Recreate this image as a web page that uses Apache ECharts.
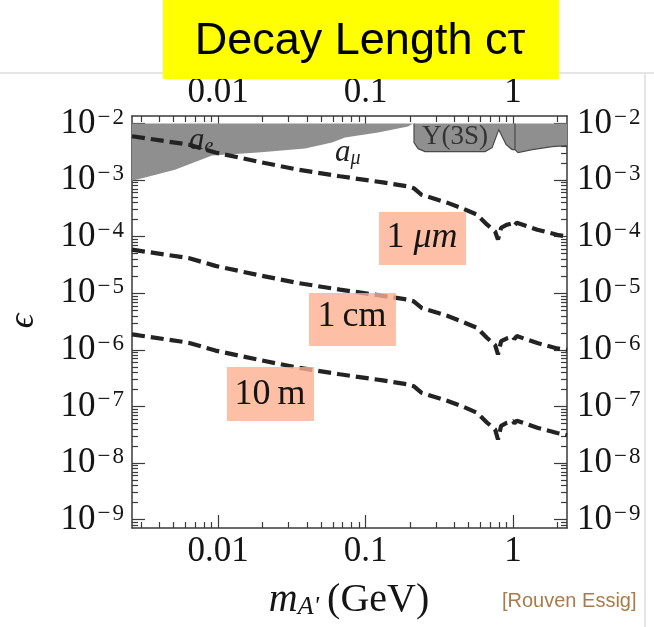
<!DOCTYPE html>
<html>
<head>
<meta charset="utf-8">
<title>Decay Length</title>
<script src="https://cdn.jsdelivr.net/npm/echarts@6/dist/echarts.min.js"></script>
<style>
  html, body { margin: 0; padding: 0; background: #fff; }
  #main { width: 654px; height: 627px; }
</style>
</head>
<body>
<div id="main"></div>
<script>
// axis ranges (m_A' in GeV, epsilon)
var massRange = [0.00261, 2.32];
var epsRange = [7.1e-10, 1.36e-2];
var xTickLabels = [0.01, 0.1, 1];
var yTickExps = [-9, -8, -7, -6, -5, -4, -3, -2];

// decay length contours
var curveMass = [0.00261, 0.0063, 0.0096, 0.0187, 0.0348, 0.067, 0.131, 0.19, 0.212, 0.24, 0.357, 0.458,
  0.57, 0.667, 0.755, 0.79, 0.83, 0.91, 1.0, 1.02, 1.06, 1.46, 1.99, 2.32];
var eps1um = [5.96e-3, 4.25e-3, 3.07e-3, 2.12e-3, 1.53e-3, 1.17e-3, 9.1e-4, 7.8e-4, 7.2e-4, 5.5e-4, 4.0e-4, 3.13e-4,
  2.45e-4, 1.63e-4, 1.24e-4, 8.9e-5, 1.44e-4, 1.63e-4, 1.74e-4, 1.58e-4, 1.77e-4, 1.33e-4, 1.08e-4, 1.01e-4];
var eps1cm = [5.9e-5, 4.2e-5, 3.05e-5, 2.1e-5, 1.52e-5, 1.16e-5, 9.0e-6, 7.8e-6, 7.2e-6, 5.5e-6, 4.0e-6, 3.1e-6,
  2.45e-6, 1.62e-6, 1.22e-6, 8.3e-7, 1.42e-6, 1.6e-6, 1.72e-6, 1.55e-6, 1.75e-6, 1.32e-6, 1.06e-6, 1.0e-6];
var eps10m = [1.88e-6, 1.34e-6, 9.7e-7, 6.7e-7, 4.84e-7, 3.7e-7, 2.88e-7, 2.47e-7, 2.28e-7, 1.74e-7, 1.26e-7, 9.9e-8,
  7.7e-8, 5.15e-8, 3.92e-8, 2.6e-8, 4.55e-8, 5.15e-8, 5.5e-8, 5.0e-8, 5.6e-8, 4.2e-8, 3.4e-8, 3.1e-8];

// excluded region (a_e, a_mu, then Upsilon(3S) and beyond), top edge at 1e-2
var regionTop = 1e-2;
var aMass = [0.00261, 0.0032, 0.0051, 0.0091, 0.0187, 0.0389, 0.0593, 0.0726, 0.1216, 0.194, 0.21];
var aEps = [9.8e-4, 1.11e-3, 1.53e-3, 2.72e-3, 3.07e-3, 3.61e-3, 4.61e-3, 5.65e-3, 6.93e-3, 8.85e-3, 1.0e-2];
var upsMass = [0.213, 0.213, 0.227, 0.253, 0.646, 0.721, 0.80, 0.897, 0.984, 1.03, 1.08, 1.35, 1.84, 2.32];
var upsEps = [1.0e-2, 4.6e-3, 3.6e-3, 3.2e-3, 3.2e-3, 3.76e-3, 7.8e-3, 4.25e-3, 3.47e-3, 3.47e-3, 3.07e-3, 3.47e-3, 3.92e-3, 4.08e-3];
var upsEdgeMass = 1.03;

var chart = echarts.init(document.getElementById('main'));
var lg = Math.log10;
var SERIF = '"Liberation Serif", "Times New Roman", "DejaVu Serif", serif';
var SANS = '"Liberation Sans", Arial, sans-serif';
var AXIS = '#3a3a3a';
var INK = '#151515';
var GRAY = '#8f8f8f';
var BOX = 'rgba(252,175,143,0.8)';

function pairs(xs, ys) {
  return xs.map(function (m, i) { return [lg(m), lg(ys[i])]; });
}

function minorTicks(lo, hi) {
  var out = [];
  for (var d = Math.floor(lo); d <= Math.ceil(hi); d++) {
    for (var k = 2; k <= 9; k++) {
      var v = d + lg(k);
      if (v > lo && v < hi) out.push(v);
    }
  }
  return out;
}

function fmtX(v) {
  return String(+Math.pow(10, v).toPrecision(3));
}
function fmtY(v) {
  return '{b|10}{m|\u2212}{s|' + (-Math.round(v)) + '}';
}
var yRich = {
  b: { fontFamily: SERIF, fontSize: 35, lineHeight: 35, padding: [4, 0, 0, 0], verticalAlign: 'bottom', color: INK },
  m: { fontFamily: SERIF, fontSize: 23, lineHeight: 23, padding: [0, 2, 0, 2], verticalAlign: 'top', color: INK },
  s: { fontFamily: SERIF, fontSize: 23, lineHeight: 23, verticalAlign: 'top', color: INK }
};

var xMin = lg(massRange[0]), xMax = lg(massRange[1]);
var yMin = lg(epsRange[0]), yMax = lg(epsRange[1]);

function xAxisDef(pos, major) {
  return {
    type: 'value', position: pos, min: xMin, max: xMax,
    splitLine: { show: false },
    axisLine: { show: major, onZero: false, lineStyle: { color: AXIS, width: 1.5 } },
    axisTick: {
      show: true, inside: true, length: major ? 13 : 6,
      lineStyle: { color: AXIS, width: 1.2 },
      customValues: major ? xTickLabels.map(lg) : minorTicks(xMin, xMax)
    },
    axisLabel: major ? {
      customValues: xTickLabels.map(lg), formatter: fmtX,
      fontFamily: SERIF, fontSize: 35, color: INK, margin: pos === 'top' ? 6 : 6
    } : { show: false }
  };
}

function yAxisDef(pos, major) {
  return {
    type: 'value', position: pos, min: yMin, max: yMax,
    splitLine: { show: false },
    axisLine: { show: major, onZero: false, lineStyle: { color: AXIS, width: 1.5 } },
    axisTick: {
      show: true, inside: true, length: major ? 13 : 6,
      lineStyle: { color: AXIS, width: 1.2 },
      customValues: major ? yTickExps : minorTicks(yMin, yMax)
    },
    axisLabel: major ? {
      customValues: yTickExps, formatter: fmtY, rich: yRich,
      margin: pos === 'left' ? 8 : 10
    } : { show: false }
  };
}

function dashed(name, eps) {
  return {
    name: name, type: 'line', data: pairs(curveMass, eps),
    showSymbol: false, symbol: 'none', z: 3, silent: true,
    lineStyle: { color: '#232323', width: 4.2, type: [13, 6] }
  };
}

var option = {
  backgroundColor: '#fff',
  animation: false,
  grid: { left: 132, right: 87, top: 116, bottom: 99 },
  xAxis: [xAxisDef('bottom', true), xAxisDef('top', true), xAxisDef('bottom', false), xAxisDef('top', false)],
  yAxis: [yAxisDef('left', true), yAxisDef('right', true), yAxisDef('left', false), yAxisDef('right', false)],
  series: [
    {
      type: 'custom', silent: true, z: 1,
      data: [[lg(aMass[0]), lg(aEps[0])]],
      renderItem: function (params, api) {
        var top = lg(regionTop);
        var pts = [api.coord([lg(aMass[0]), top])];
        pairs(aMass, aEps).forEach(function (p) { pts.push(api.coord(p)); });
        var edge = pairs(upsMass, upsEps).map(function (p) { return api.coord(p); });
        pts = pts.concat(edge);
        pts.push(api.coord([lg(upsMass[upsMass.length - 1]), top]));
        var v0 = api.coord([lg(upsEdgeMass), top]);
        var v1 = api.coord([lg(upsEdgeMass), lg(upsEps[upsMass.indexOf(upsEdgeMass)])]);
        return {
          type: 'group',
          children: [
            { type: 'polygon', shape: { points: pts }, style: { fill: GRAY } },
            { type: 'polyline', shape: { points: edge }, style: { stroke: '#4a4a4a', lineWidth: 1.2, fill: null } },
            { type: 'line', shape: { x1: v0[0], y1: v0[1], x2: v1[0], y2: v1[1] }, style: { stroke: '#4a4a4a', lineWidth: 1.2 } }
          ]
        };
      }
    },
    dashed('1 \u03bcm', eps1um),
    dashed('1 cm', eps1cm),
    dashed('10 m', eps10m)
  ],
  graphic: [
    { type: 'line', z: 0, shape: { x1: 0, y1: 73, x2: 654, y2: 73 }, style: { stroke: '#dcdcdc', lineWidth: 1.5 } },
    { type: 'line', z: 0, shape: { x1: 645, y1: 73, x2: 645, y2: 627 }, style: { stroke: '#dcdcdc', lineWidth: 1.5 } },
    { type: 'rect', z: 5, shape: { x: 163, y: 0, width: 396, height: 79 }, style: { fill: '#ffff00' } },
    { type: 'text', z: 6, style: { text: 'Decay Length c\u03c4', x: 360, y: 42, align: 'center', verticalAlign: 'middle',
        fontFamily: SANS, fontSize: 45, fill: '#000' } },

    { type: 'rect', z: 10, shape: { x: 379, y: 212, width: 87, height: 53 }, style: { fill: BOX } },
    { type: 'text', z: 11, style: { text: '{r|1}{i|\u03bcm}', x: 422, y: 238, align: 'center', verticalAlign: 'middle',
        rich: { r: { fontFamily: SERIF, fontSize: 36, fill: INK }, i: { fontFamily: SERIF, fontSize: 36, fontStyle: 'italic', fill: INK, padding: [0, 0, 0, 9] } } } },
    { type: 'rect', z: 10, shape: { x: 309, y: 293, width: 87, height: 53 }, style: { fill: BOX } },
    { type: 'text', z: 11, style: { text: '{r|1}{c|cm}', x: 352, y: 317, align: 'center', verticalAlign: 'middle',
        rich: { r: { fontFamily: SERIF, fontSize: 36, fill: INK }, c: { fontFamily: SERIF, fontSize: 36, fill: INK, padding: [0, 0, 0, 7] } } } },
    { type: 'rect', z: 10, shape: { x: 227, y: 367, width: 87, height: 54 }, style: { fill: BOX } },
    { type: 'text', z: 11, style: { text: '{r|10}{c|m}', x: 270, y: 395, align: 'center', verticalAlign: 'middle',
        rich: { r: { fontFamily: SERIF, fontSize: 36, fill: INK }, c: { fontFamily: SERIF, fontSize: 36, fill: INK, padding: [0, 0, 0, 7] } } } },

    { type: 'text', z: 11, style: { text: '{a|a}{e|e}', x: 189, y: 141, align: 'left', verticalAlign: 'middle',
        rich: { a: { fontFamily: SERIF, fontSize: 31, lineHeight: 31, fontStyle: 'italic', fill: '#222' },
                e: { fontFamily: SERIF, fontSize: 20, lineHeight: 20, fontStyle: 'italic', verticalAlign: 'bottom', fill: '#222' } } } },
    { type: 'text', z: 11, style: { text: '{a|a}{e|\u03bc}', x: 335, y: 153, align: 'left', verticalAlign: 'middle',
        rich: { a: { fontFamily: SERIF, fontSize: 31, lineHeight: 31, fontStyle: 'italic', fill: '#222' },
                e: { fontFamily: SERIF, fontSize: 20, lineHeight: 20, fontStyle: 'italic', verticalAlign: 'bottom', fill: '#222' } } } },
    { type: 'text', z: 11, style: { text: '\u03a5(3S)', x: 455, y: 137, align: 'center', verticalAlign: 'middle',
        fontFamily: SERIF, fontSize: 27, fill: '#333' } },

    { type: 'text', z: 11, rotation: Math.PI / 2, x: 24, y: 321,
      style: { text: '\u03f5', x: 0, y: 0, align: 'center', verticalAlign: 'middle', fontFamily: SERIF, fontSize: 36, fontStyle: 'italic', fill: INK } },
    { type: 'text', z: 11, style: { text: '{m|m}{a|A\'}{r|(GeV)}', x: 349, y: 600, align: 'center', verticalAlign: 'middle',
        rich: { m: { fontFamily: SERIF, fontSize: 40, lineHeight: 40, fontStyle: 'italic', fill: INK },
                a: { fontFamily: SERIF, fontSize: 26, lineHeight: 26, fontStyle: 'italic', verticalAlign: 'bottom', fill: INK, padding: [0, 8, 0, 0] },
                r: { fontFamily: SERIF, fontSize: 40, lineHeight: 40, fill: INK } } } },
    { type: 'text', z: 11, style: { text: '[Rouven Essig]', x: 502, y: 601, align: 'left', verticalAlign: 'middle',
        fontFamily: SANS, fontSize: 20, fill: '#a87b49' } }
  ]
};

chart.setOption(option);
window.addEventListener('resize', function () { chart.resize(); });
</script>
</body>
</html>
